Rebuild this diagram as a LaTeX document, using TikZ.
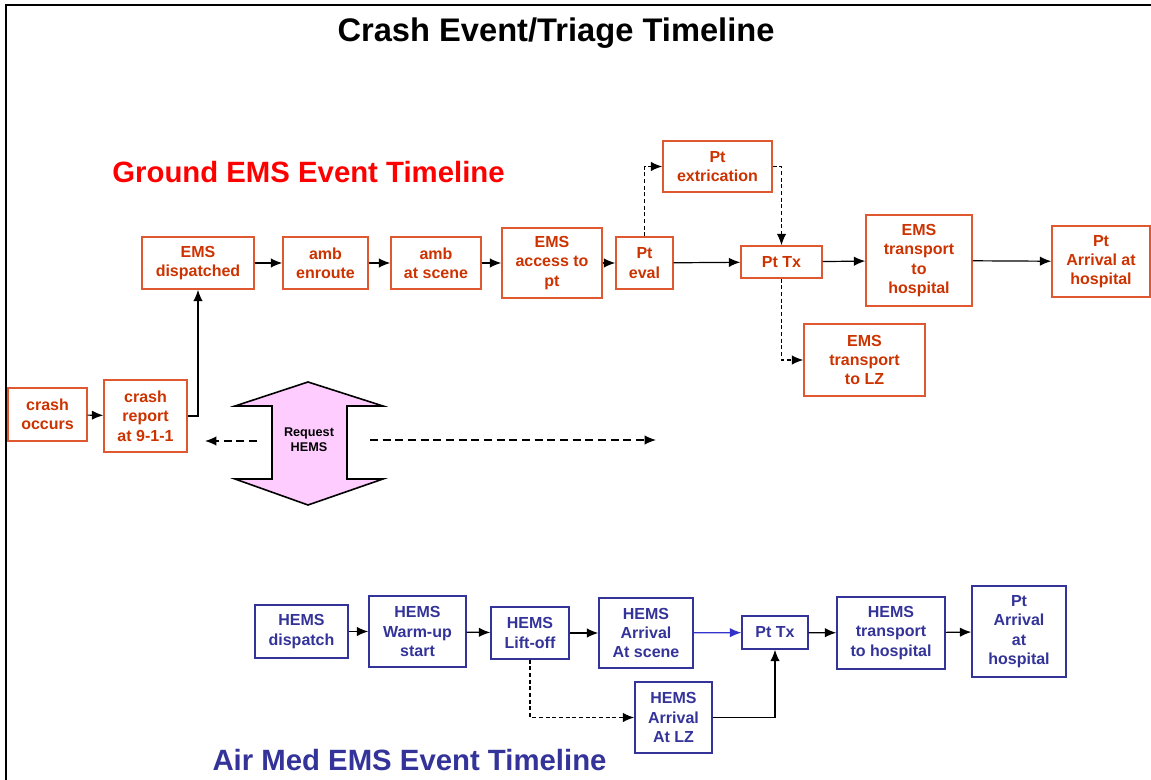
\documentclass[tikz,border=0pt]{standalone}
\usepackage{fontspec}
\setmainfont{Liberation Sans}
\usetikzlibrary{arrows.meta}
\definecolor{gline}{RGB}{224,88,48}
\definecolor{gtext}{RGB}{204,51,0}
\definecolor{bline}{RGB}{51,51,153}
\definecolor{btext}{RGB}{51,51,153}
\definecolor{hline}{RGB}{51,51,204}
\definecolor{pinkfill}{RGB}{255,204,255}
\begin{document}
\begin{tikzpicture}[x=0.75pt,y=-0.75pt,
  sz/.style 2 args={minimum width=#1*0.75pt, minimum height=#2*0.75pt},
  box/.style={draw, line width=1.1pt, inner sep=1pt, align=center,
    font=\bfseries\fontsize{12}{14.5}\selectfont},
  gbox/.style={box, draw=gline, text=gtext},
  bbox/.style={box, draw=bline, text=btext},
  arr/.style={-{Latex[length=8.5pt,width=7pt]}, line width=0.9pt, black},
  darr/.style={arr, dash pattern=on 3pt off 2pt},
  rarr/.style={arr, dash pattern=on 6pt off 3.5pt},
  heading/.style={font=\bfseries\fontsize{22}{26}\selectfont, inner sep=0pt}
]
\useasboundingbox (0,0) rectangle (1151,780);
% frame
\draw[line width=1.6pt] (6,780) -- (6,5) -- (1151,5);

% titles
\node[font=\bfseries\fontsize{24.5}{28}\selectfont, inner sep=0pt] (title) at (556,33) {Crash Event/Triage Timeline};
\node[heading, text=red] (gtitle) at (308.5,172) {Ground EMS Event Timeline};
\node[heading, text=btext] (atitle) at (409.5,760) {Air Med EMS Event Timeline};

% ground boxes
\node[gbox, sz={79}{53}] (crash) at (47.5,414.5) {crash\\occurs};
\node[gbox, sz={83}{72}] (report) at (145.5,416) {crash\\report\\at 9-1-1};
\node[gbox, sz={112}{52}] (disp) at (198,263) {EMS\\dispatched};
\node[gbox, sz={85}{52}] (enr) at (325.5,263) {amb\\enroute};
\node[gbox, sz={90}{52}] (scene) at (436,263) {amb\\at scene};
\node[gbox, sz={100}{70}] (access) at (552,263) {EMS\\access to\\pt};
\node[gbox, sz={57}{52}] (eval) at (644.5,263) {Pt\\eval};
\node[gbox, sz={109}{51}] (ext) at (717.5,166.5) {Pt\\extrication};
\node[gbox, sz={81}{32}] (gtx) at (781.5,262) {Pt Tx};
\node[gbox, sz={106}{91}] (ghosp) at (919,260.5) {EMS\\transport\\to\\hospital};
\node[gbox, sz={98}{71}] (garr) at (1101,261.5) {Pt\\Arrival at\\hospital};
\node[gbox, sz={121}{72}] (glz) at (864.5,360) {EMS\\transport\\to LZ};

% ground connectors
\draw[arr] (crash) -- (report);
\draw[arr] (report.east) -| (disp.south);
\draw[arr] (disp) -- (enr);
\draw[arr] (enr) -- (scene);
\draw[arr] (scene) -- (access);
\draw[arr] (access) -- (eval);
\draw[arr] (eval) -- (gtx);
\draw[darr] (eval.north) |- (ext.west);
\draw[darr] (ext.east) -| (gtx.north);
\draw[arr] (gtx) -- (ghosp);
\draw[arr] (ghosp) -- (garr);
\draw[darr] (gtx.south) |- (glz.west);

% request HEMS double arrow
\draw[fill=pinkfill, line width=1.2pt, line join=miter]
  (308,382) -- (383,406) -- (347,406) -- (347,479) -- (383,479) -- (308,505)
  -- (235,479) -- (272,479) -- (272,406) -- (235,406) -- cycle;
\node[font=\bfseries\fontsize{9.5}{11}\selectfont, align=center, inner sep=0pt] (req) at (309,440) {Request\\HEMS};
\coordinate (la) at (257,441);
\coordinate (lb) at (205,441);
\coordinate (ra) at (370,440);
\coordinate (rb) at (656,440);
\draw[rarr] (la) -- (lb);
\draw[rarr] (ra) -- (rb);

% air boxes
\node[bbox, sz={93}{53}] (hdisp) at (301.5,631.5) {HEMS\\dispatch};
\node[bbox, sz={97}{71}] (warm) at (417.5,631.5) {HEMS\\Warm-up\\start};
\node[bbox, sz={78}{52}] (lift) at (530,633) {HEMS\\Lift-off};
\node[bbox, sz={94}{70}] (ascene) at (646,633) {HEMS\\Arrival\\At scene};
\node[bbox, sz={66}{33}] (atx) at (775,632.5) {Pt Tx};
\node[bbox, sz={108}{72}] (ahosp) at (891,633) {HEMS\\transport\\to hospital};
\node[bbox, sz={94}{91}] (aarr) at (1019,631.5) {Pt\\Arrival\\at\\hospital};
\node[bbox, sz={77}{71}] (alz) at (673.5,717.5) {HEMS\\Arrival\\At LZ};

% air connectors
\draw[arr] (hdisp) -- (warm);
\draw[arr] (warm) -- (lift);
\draw[arr] (lift) -- (ascene);
\draw[arr, draw=hline, -{Latex[length=8.5pt,width=7pt,fill=hline]}] (ascene) -- (atx);
\draw[arr] (atx) -- (ahosp);
\draw[arr] (ahosp) -- (aarr);
\draw[darr] (lift.south) |- (alz.west);
\draw[arr] (alz.east) -| (atx.south);
\end{tikzpicture}
\end{document}
